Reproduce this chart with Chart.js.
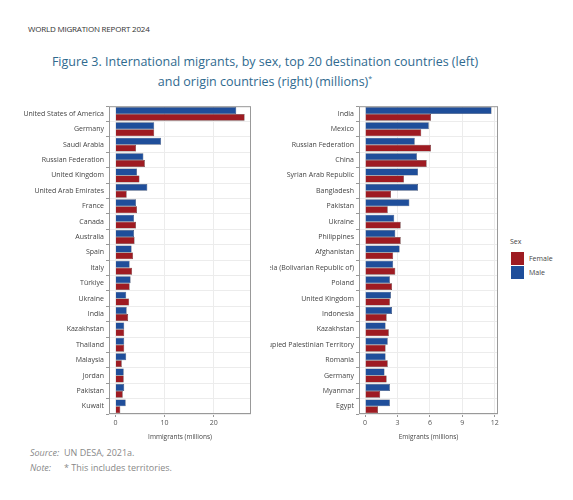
<!DOCTYPE html>
<html><head><meta charset="utf-8">
<script src="https://cdn.jsdelivr.net/npm/chart.js@4"></script>
<style>
body{margin:0;background:#fff;font-family:"Open Sans",sans-serif;}
#wrap{position:relative;width:573px;height:500px;}
.t{position:absolute;white-space:nowrap;}
</style></head><body>
<div id="wrap">
<div class="t" style="left:28px;top:23px;font-size:8px;color:#333;letter-spacing:-0.2px">WORLD MIGRATION REPORT 2024</div>
<div class="t" style="left:0;width:530px;top:53px;text-align:center;font-size:12.5px;line-height:17px;color:#2f6a8f">Figure 3. International migrants, by sex, top 20 destination countries (left)<br>and origin countries (right) (millions)<sup style="font-size:7px">*</sup></div>
<canvas id="c1" style="position:absolute;left:20px;top:100px;width:235px;height:345px"></canvas>
<canvas id="c2" style="position:absolute;left:270px;top:100px;width:232px;height:345px"></canvas>
<div class="t" style="left:510px;top:237px;font-size:7px;color:#444">Sex</div>
<div style="position:absolute;left:511px;top:252px;width:13px;height:13px;background:#9e1b22"></div>
<div style="position:absolute;left:511px;top:266px;width:13px;height:13px;background:#1f4e9a"></div>
<div class="t" style="left:529px;top:254px;font-size:7px;color:#444">Female</div>
<div class="t" style="left:529px;top:268px;font-size:7px;color:#444">Male</div>
<div class="t" style="left:30px;top:446px;font-size:9px;color:#888"><i>Source:</i><span style="position:absolute;left:34px">UN DESA, 2021a.</span></div>
<div class="t" style="left:30px;top:461px;font-size:9px;color:#888"><i>Note:</i><span style="position:absolute;left:34px">* This includes territories.</span></div>
</div>
<script>
const destCountries=["United States of America","Germany","Saudi Arabia","Russian Federation","United Kingdom","United Arab Emirates","France","Canada","Australia","Spain","Italy","Türkiye","Ukraine","India","Kazakhstan","Thailand","Malaysia","Jordan","Pakistan","Kuwait"];
const destMale=[24.6,7.9,9.3,5.7,4.4,6.5,4.2,3.8,3.8,3.3,2.9,3.1,2.2,2.3,1.8,1.8,2.2,1.7,1.8,2.1];
const destFemale=[26.3,7.9,4.2,6.0,4.9,2.3,4.4,4.2,3.9,3.6,3.4,2.9,2.8,2.6,1.8,1.8,1.3,1.7,1.5,1.0];
const origCountries=["India","Mexico","Russian Federation","China","Syrian Arab Republic","Bangladesh","Pakistan","Ukraine","Philippines","Afghanistan","Venezuela (Bolivarian Republic of)","Poland","United Kingdom","Indonesia","Kazakhstan","Occupied Palestinian Territory","Romania","Germany","Myanmar","Egypt"];
const origMale=[11.7,5.9,4.6,4.8,4.9,4.9,4.1,2.7,2.8,3.2,2.6,2.3,2.4,2.5,1.9,2.1,1.9,1.8,2.3,2.3];
const origFemale=[6.1,5.2,6.1,5.7,3.6,2.4,2.1,3.3,3.3,2.6,2.8,2.5,2.3,2.0,2.2,1.9,2.1,2.0,1.4,1.2];
const destTicks=[0,10,20], origTicks=[0,3,6,9,12];
const box={id:'box',afterDraw(c){const a=c.chartArea,x=c.ctx;x.save();x.strokeStyle='#999';x.lineWidth=1;x.strokeRect(a.left+0.5,a.top+0.5,a.width-1,a.height-1);x.restore();}};
function mk(id,labels,male,female,min,max,ticks,title){
 new Chart(document.getElementById(id),{type:'bar',
  data:{labels,datasets:[
   {label:'Male',data:male,backgroundColor:'#1f4e9a',borderColor:'#2a3550',borderWidth:0.5},
   {label:'Female',data:female,backgroundColor:'#9e1b22',borderColor:'#3a2020',borderWidth:0.5}]},
  options:{indexAxis:'y',responsive:false,animation:false,maintainAspectRatio:false,
   layout:{padding:{top:4,right:4,left:0,bottom:0}},
   plugins:{legend:{display:false},tooltip:{enabled:false}},
   datasets:{bar:{categoryPercentage:0.9,barPercentage:1}},
   scales:{
    x:{min,max,afterBuildTicks(s){s.ticks=ticks.map(v=>({value:v}));},
     grid:{color:'#ececec',tickColor:'#999',tickLength:3},border:{display:false},
     ticks:{font:{size:7,family:'Open Sans'},color:'#555',padding:2},
     title:{display:true,text:title,font:{size:6.5,family:'Open Sans'},color:'#444',padding:{top:2}},
     afterFit(s){s.height=31;}},
    y:{grid:{color:'#ececec',tickColor:'#999',tickLength:3},border:{display:false},
     ticks:{font:{size:7,family:'Open Sans'},color:'#444',padding:2,autoSkip:false},
     afterFit(s){s.width=89;}}}},
  plugins:[box]});
}
mk('c1',destCountries,destMale,destFemale,-1.3,27.6,destTicks,'Immigrants (millions)');
mk('c2',origCountries,origMale,origFemale,-0.56,12.3,origTicks,'Emigrants (millions)');
</script></body></html>
